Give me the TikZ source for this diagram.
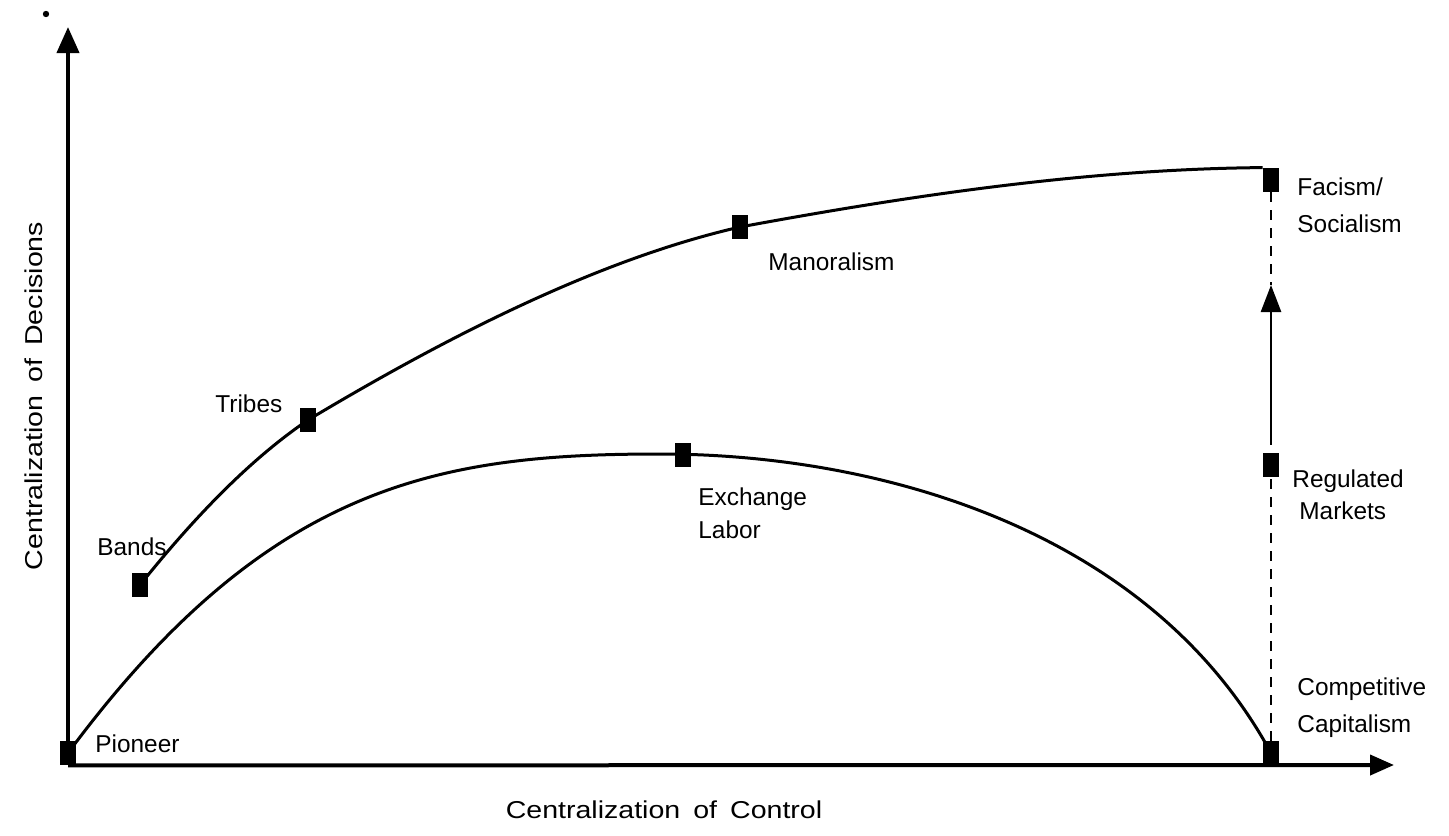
\documentclass[tikz,border=0pt]{standalone}
\usepackage{fontspec}
\usepackage{graphicx}
\setmainfont{Liberation Sans}
\usetikzlibrary{arrows.meta}
\begin{document}
\begin{tikzpicture}[x=0.5pt,y=-0.5pt,
  sq/.style={fill=black,draw=none,minimum width=8pt,minimum height=12pt,inner sep=0pt},
  lbl/.style={font=\fontsize{12.2pt}{16pt}\selectfont, inner sep=0pt, anchor=base west, align=left},
  axlbl/.style={font=\fontsize{12.2pt}{15pt}\selectfont, inner sep=0pt, anchor=base},
  curve/.style={line width=1.5pt},
  axisline/.style={line width=2pt},
  dsh/.style={line width=1.4pt, dash pattern=on 5pt off 4pt},
]
\useasboundingbox (0,0) rectangle (1449,835);
% markers
\node[sq] (pio) at (68,753) {};
\node[sq] (bands) at (140,585) {};
\node[sq] (tribes) at (308,420) {};
\node[sq] (manor) at (740,227) {};
\node[sq] (exch) at (683,455) {};
\node[sq] (fac) at (1271,180) {};
\node[sq] (reg) at (1271,465) {};
\node[sq] (comp) at (1271,753) {};
% stray dot
\fill (46,14) circle[radius=1.6pt];
% curves
\draw[curve] (bands.center) .. controls (200,510) and (255,456) .. (tribes.center)
  .. controls (450,335) and (600,259) .. (manor.center)
  .. controls (913,195) and (1090,169) .. (fac.north west);
\coordinate (peak) at (660,454);
\draw[curve] (pio.center) .. controls (268,483) and (440,454) .. (peak)
  .. controls (880,454) and (1150,530) .. (comp.center);
% axes
\coordinate (ytip) at (68,27);
\coordinate (xtip) at (1394,765);
\draw[axisline,-{Triangle[length=13pt,width=11pt]}] (pio.north) -- (ytip);
\draw[axisline,-{Triangle[length=12pt,width=10pt]}] (pio.south) -- (xtip);
% right column
\coordinate (uptip) at (1271,285);
\draw[dsh] (fac.south) -- (uptip);
\draw[line width=1.3pt,-{Triangle[length=13.5pt,width=10pt]},shorten <=4pt] (reg.north) -- (uptip);
\draw[dsh] (comp.north) -- (reg.south);
% labels
\node[lbl] (lpio) at (95,752) {Pioneer};
\node[lbl] (lbands) at (97,555) {Bands};
\node[lbl] (ltribes) at (215,412) {Tribes};
\node[lbl] (lmanor) at (768,270) {Manoralism};
\node[lbl] (lexch) at (698,538) {Exchange\\[0.5pt]Labor};
\node[lbl] (lfac) at (1297,232) {Facism/\\[2.5pt]Socialism};
\node[lbl] (lreg) at (1292,519) {Regulated\\\hspace*{3.5pt}Markets};
\node[lbl] (lcomp) at (1297,732) {Competitive\\[2.5pt]Capitalism};
\node[axlbl] (xlab) at (664,818) {\scalebox{1.17}[1]{Centralization}\hspace{6.5pt}\scalebox{1.17}[1]{of}\hspace{6.5pt}\scalebox{1.17}[1]{Control}};
\node[axlbl,rotate=90] (ylab) at (42,396) {\scalebox{1.17}[1]{Centralization}\hspace{6.5pt}\scalebox{1.17}[1]{of}\hspace{6.5pt}\scalebox{1.17}[1]{Decisions}};
\end{tikzpicture}
\end{document}
